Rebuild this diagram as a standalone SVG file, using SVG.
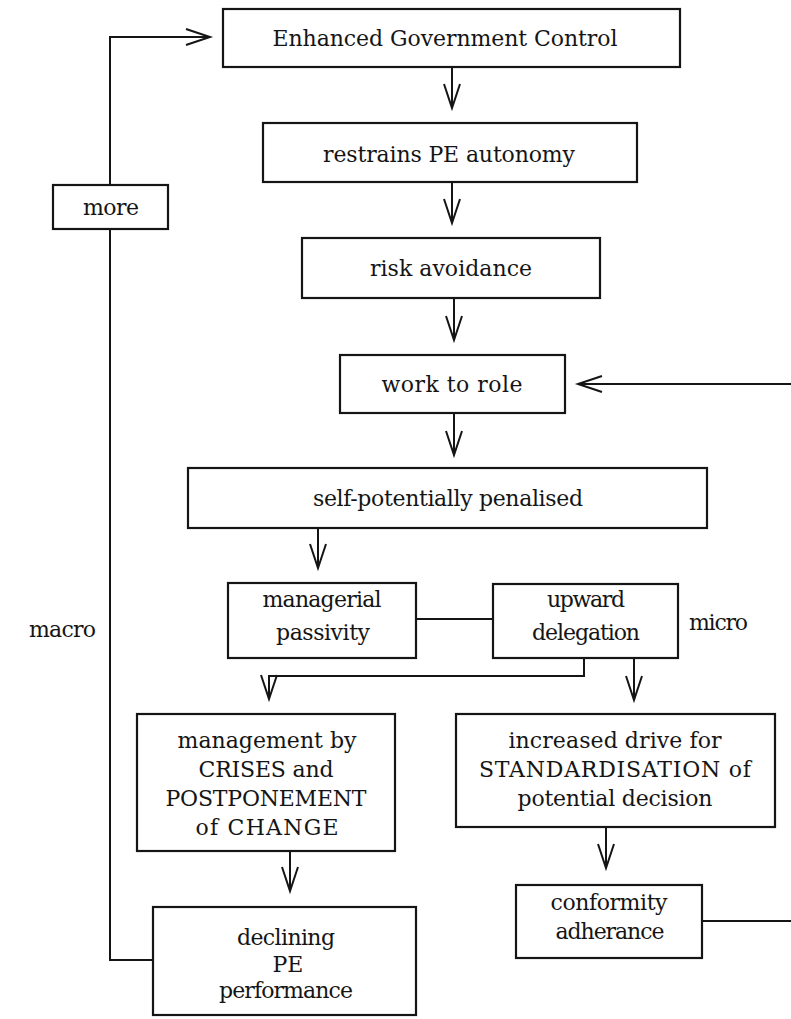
<svg xmlns="http://www.w3.org/2000/svg" width="791" height="1019" viewBox="0 0 791 1019">
<style>
.box{fill:#fff;stroke:#151515;stroke-width:2.2}
.ln{fill:none;stroke:#151515;stroke-width:2}
.t{font-family:"DejaVu Serif","Liberation Serif",serif;font-size:22px;fill:#151515;text-anchor:middle}
.ts{font-family:"DejaVu Serif","Liberation Serif",serif;font-size:22px;fill:#151515}
</style>
<defs>
<marker id="ah" markerUnits="userSpaceOnUse" markerWidth="30" markerHeight="24" refX="26" refY="10" orient="auto" viewBox="0 0 30 20">
<path d="M2,2 L26,10 L2,18" fill="none" stroke="#151515" stroke-width="2"/>
</marker>
</defs>
<rect width="791" height="1019" fill="#fff"/>
<g id="connectors">
<path class="ln" d="M153,960 H110 V37 H210" marker-end="url(#ah)"/>
<path class="ln" d="M452,67 V108" marker-end="url(#ah)"/>
<path class="ln" d="M452,182 V223" marker-end="url(#ah)"/>
<path class="ln" d="M454,298 V340" marker-end="url(#ah)"/>
<path class="ln" d="M791,384 H578" marker-end="url(#ah)"/>
<path class="ln" d="M454,413 V455" marker-end="url(#ah)"/>
<path class="ln" d="M318,528 V568" marker-end="url(#ah)"/>
<path class="ln" d="M416,619 H493"/>
<path class="ln" d="M584,658 V676 H269 V699" marker-end="url(#ah)"/>
<path class="ln" d="M634,658 V700" marker-end="url(#ah)"/>
<path class="ln" d="M290,851 V891" marker-end="url(#ah)"/>
<path class="ln" d="M606,827 V868" marker-end="url(#ah)"/>
<path class="ln" d="M702,921 H791"/>
</g>
<g id="n-more"><rect class="box" x="53" y="185" width="115" height="44"/><text class="t" x="111" y="215" textLength="56">more</text></g>
<g id="n-control"><rect class="box" x="223" y="9" width="457" height="58"/><text class="t" x="445" y="46" textLength="345">Enhanced Government Control</text></g>
<g id="n-restrains"><rect class="box" x="263" y="123" width="374" height="59"/><text class="t" x="449" y="162" textLength="252">restrains PE autonomy</text></g>
<g id="n-risk"><rect class="box" x="302" y="238" width="298" height="60"/><text class="t" x="451" y="276" textLength="162">risk avoidance</text></g>
<g id="n-work"><rect class="box" x="340" y="355" width="225" height="58"/><text class="t" x="452" y="392" textLength="141">work to role</text></g>
<g id="n-self"><rect class="box" x="188" y="468" width="519" height="60"/><text class="t" x="448" y="506" textLength="270">self-potentially penalised</text></g>
<g id="n-passivity"><rect class="box" x="228" y="583" width="188" height="75"/><text class="t" x="322" y="607" textLength="119">managerial</text><text class="t" x="323" y="640" textLength="94">passivity</text></g>
<g id="n-delegation"><rect class="box" x="493" y="584" width="185" height="74"/><text class="t" x="586" y="607" textLength="78">upward</text><text class="t" x="586" y="640" textLength="108">delegation</text></g>
<g id="lbl-micro"><text class="ts" x="689" y="630" textLength="59">micro</text></g>
<g id="lbl-macro"><text class="ts" x="29" y="637" textLength="67">macro</text></g>
<g id="n-crises"><rect class="box" x="137" y="714" width="258" height="137"/>
<text class="t" x="267" y="748" textLength="179">management by</text>
<text class="t" x="266" y="777" textLength="135">CRISES and</text>
<text class="t" x="266" y="806" textLength="201">POSTPONEMENT</text>
<text class="t" x="267" y="835" textLength="143">of CHANGE</text></g>
<g id="n-standard"><rect class="box" x="456" y="714" width="319" height="113"/>
<text class="t" x="615" y="748" textLength="213">increased drive for</text>
<text class="t" x="615" y="777" textLength="272">STANDARDISATION of</text>
<text class="t" x="615" y="806" textLength="195">potential decision</text></g>
<g id="n-conformity"><rect class="box" x="516" y="885" width="186" height="73"/>
<text class="t" x="609" y="910" textLength="117">conformity</text>
<text class="t" x="610" y="939" textLength="109">adherance</text></g>
<g id="n-declining"><rect class="box" x="153" y="907" width="263" height="108"/>
<text class="t" x="286" y="945" textLength="98">declining</text>
<text class="t" x="288" y="972">PE</text>
<text class="t" x="286" y="998" textLength="134">performance</text></g>
</svg>
